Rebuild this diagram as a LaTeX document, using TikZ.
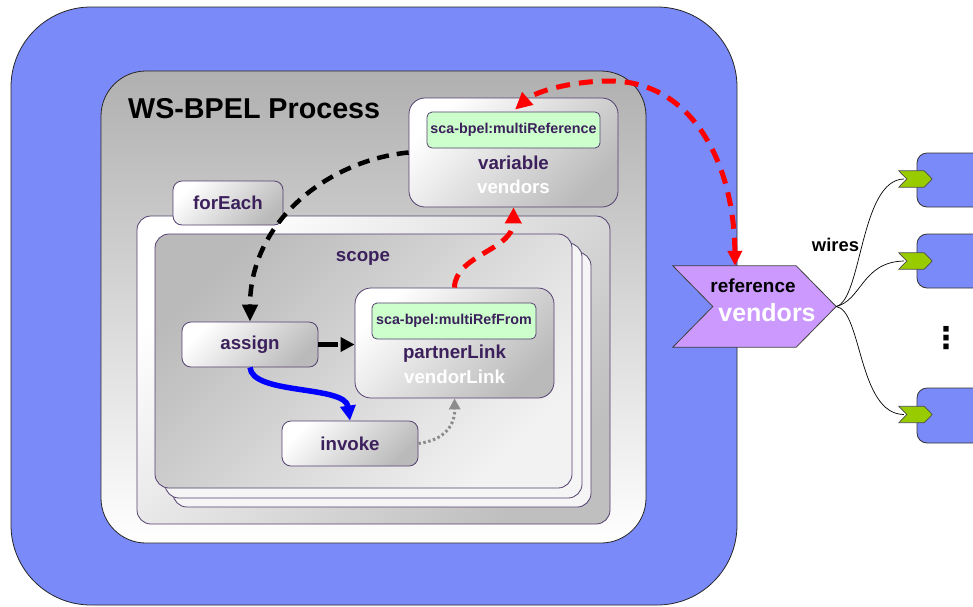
\documentclass[tikz,border=0pt]{standalone}
\usepackage{fontspec}
\setmainfont{Liberation Sans}
\newfontfamily\dejavu{DejaVu Sans}
\usetikzlibrary{arrows.meta}
\definecolor{bgblue}{RGB}{122,138,248}
\definecolor{txtpurple}{RGB}{60,32,92}
\definecolor{boxline}{RGB}{84,64,112}
\definecolor{lgreen}{RGB}{204,255,204}
\definecolor{refpurple}{RGB}{204,153,255}
\definecolor{chgreen}{RGB}{153,204,0}
\begin{document}
\begin{tikzpicture}[x=1pt,y=-1pt,
  box/.style={draw=boxline, line width=0.8pt, rounded corners=9pt, top color=white, bottom color=black!27, shading angle=45, inner sep=0pt, text=txtpurple, font=\bfseries\fontsize{18.7}{20}\selectfont},
  gbox/.style={draw=boxline, line width=0.8pt, rounded corners=5pt, fill=lgreen, inner sep=0pt, text=txtpurple, font=\bfseries\fontsize{14.3}{16}\selectfont},
  plbl/.style={text=txtpurple, font=\bfseries\fontsize{18.7}{20}\selectfont, inner sep=0pt},
  wlbl/.style={text=white, font=\bfseries\fontsize{18.7}{20}\selectfont, inner sep=0pt},
  scopebox/.style={draw=boxline, line width=0.8pt, rounded corners=14pt, inner sep=0pt},
  blkdash/.style={line width=4.5pt, dash pattern=on 12pt off 8pt, -{Triangle[length=17pt,width=15pt]}},
  blkshort/.style={line width=4.5pt, dash pattern=on 20pt off 4pt, -{Triangle[length=14pt,width=14pt]}},
  reddash/.style={red, line width=5pt, dash pattern=on 14pt off 9pt, -{Triangle[length=16pt,width=16pt]}},
  bluearr/.style={blue, line width=5.5pt, -{Triangle[length=15pt,width=15pt]}},
  grayarr/.style={black!45, line width=3pt, dash pattern=on 2.5pt off 2.5pt, -{Triangle[length=11pt,width=11pt]}},
  wire/.style={black, line width=0.7pt},
  rbox/.style={draw=black!80, line width=0.8pt, fill=bgblue, rounded corners=10pt, minimum width=73pt, minimum height=54pt, inner sep=0pt},
  chev/.style={minimum width=33pt, minimum height=16pt, inner sep=0pt}
]
\clip (0,0) rectangle (973,606);
% outer component
\node[draw=black!85, line width=0.8pt, fill=bgblue, rounded corners=80pt, minimum width=726pt, minimum height=598pt, inner sep=0pt] (outer) at (374,306) {};
% process
\node[draw=black!85, line width=0.8pt, rounded corners=45pt, top color=black!31, bottom color=white, minimum width=545pt, minimum height=472pt, inner sep=0pt] (proc) at (373.5,307) {};
\node[font=\bfseries\fontsize{28.7}{30}\selectfont, anchor=base west, inner sep=0pt] (title) at (128,118) {WS-BPEL Process};
% forEach container
\node[scopebox, top color=white, bottom color=black!25, shading angle=45, minimum width=473pt, minimum height=308pt] (fecont) at (373.5,370) {};
\node[box, minimum width=110pt, minimum height=44pt] (foreach) at (228,203) {forEach};
% scopes
\node[scopebox, fill=black!4, minimum width=418pt, minimum height=255pt] (scope3) at (382,379.5) {};
\node[scopebox, fill=black!4, minimum width=417pt, minimum height=255pt] (scope2) at (373.5,370.5) {};
\node[scopebox, top color=black!27, bottom color=black!5, shading angle=45, minimum width=417pt, minimum height=254pt] (scope1) at (363.5,361) {};
\node[plbl] (scopelbl) at (363,258) {scope};
% variable
\node[box, rounded corners=16pt, minimum width=209pt, minimum height=109pt] (var) at (513.5,152.5) {};
\node[gbox, minimum width=173pt, minimum height=36pt] (varg) at (513.5,130) {sca-bpel:multiReference};
\node[plbl] (varlbl) at (513.5,163) {variable};
\node[wlbl] (varname) at (513.5,187) {vendors};
% partnerLink
\node[box, rounded corners=16pt, minimum width=199pt, minimum height=110pt] (pl) at (454.5,343) {};
\node[gbox, minimum width=164pt, minimum height=36pt] (plg) at (454,321) {sca-bpel:multiRefFrom};
\node[plbl] (pllbl) at (454.5,354) {partnerLink};
\node[wlbl] (plname) at (454.5,377) {vendorLink};
% activities
\node[box, minimum width=136pt, minimum height=45pt] (assign) at (250,344.5) {assign};
\node[box, minimum width=136pt, minimum height=45pt] (invoke) at (350,443.5) {invoke};
% reference
\node[chev, minimum width=163pt, minimum height=81pt] (ref) at (754.5,306.5) {};
\draw[draw=black!75, line width=0.8pt, fill=refpurple] (ref.north west) -- ([xshift=-40pt]ref.north east) -- (ref.east) -- ([xshift=-40pt]ref.south east) -- (ref.south west) -- ([xshift=40pt]ref.west) -- cycle;
\node[font=\bfseries\fontsize{18.9}{20}\selectfont, inner sep=0pt] (reflbl) at (753,286) {reference};
\node[text=white, font=\bfseries\fontsize{25}{26}\selectfont, inner sep=0pt] (refname) at (767,313) {vendors};
% targets
\node[rbox] (t1) at (953.5,180) {};
\node[rbox] (t2) at (953.5,261) {};
\node[rbox, minimum height=55pt] (t3) at (953.5,415.5) {};
\node[chev] (c1) at (915.5,179) {};
\node[chev] (c2) at (915.5,261) {};
\node[chev] (c3) at (915.5,414.5) {};
\draw[wire] (ref.east) .. controls (862,300) and (860,180) .. ([xshift=5pt]c1.west);
\draw[wire] (ref.east) .. controls (862,300) and (862,262) .. ([xshift=5pt]c2.west);
\draw[wire] (ref.east) .. controls (862,310) and (858,414) .. ([xshift=5pt]c3.west);
\foreach \c in {c1,c2,c3}{
  \draw[draw=black!70, line width=0.7pt, fill=chgreen] (\c.north west) -- ([xshift=-8pt]\c.north east) -- (\c.east) -- ([xshift=-8pt]\c.south east) -- (\c.south west) -- ([xshift=8pt]\c.west) -- cycle;
}
\node[font=\bfseries\fontsize{18.4}{20}\selectfont, inner sep=0pt] (wires) at (835.5,245) {wires};
\node[font=\dejavu\bfseries\fontsize{30}{32}\selectfont, inner sep=0pt] (dots) at (946,338) {⋮};
% connectors
\draw[blkdash] (var.west) .. controls (330,160) and (250,220) .. (assign.north);
\draw[blkshort] (assign.east) -- (assign.east -| pl.west);
\draw[bluearr] (assign.south) .. controls (252,395) and (345,385) .. (invoke.north);
\draw[grayarr] (invoke.east) .. controls (445,440) and (455,425) .. (pl.south);
\draw[reddash] (pl.north) .. controls (455,255) and (513,250) .. (var.south);
\coordinate (vartop) at ([shift={(1.5,12)}]var.north);
\coordinate (reftop) at ([xshift=-19.5pt]ref.north);
\draw[reddash, {Triangle[length=15pt,width=14pt]}-{Triangle[length=17pt,width=16pt]}] (reftop) .. controls (734,160) and (690,81) .. (610,81) .. controls (570,81) and (535,92) .. (vartop);
\end{tikzpicture}
\end{document}
